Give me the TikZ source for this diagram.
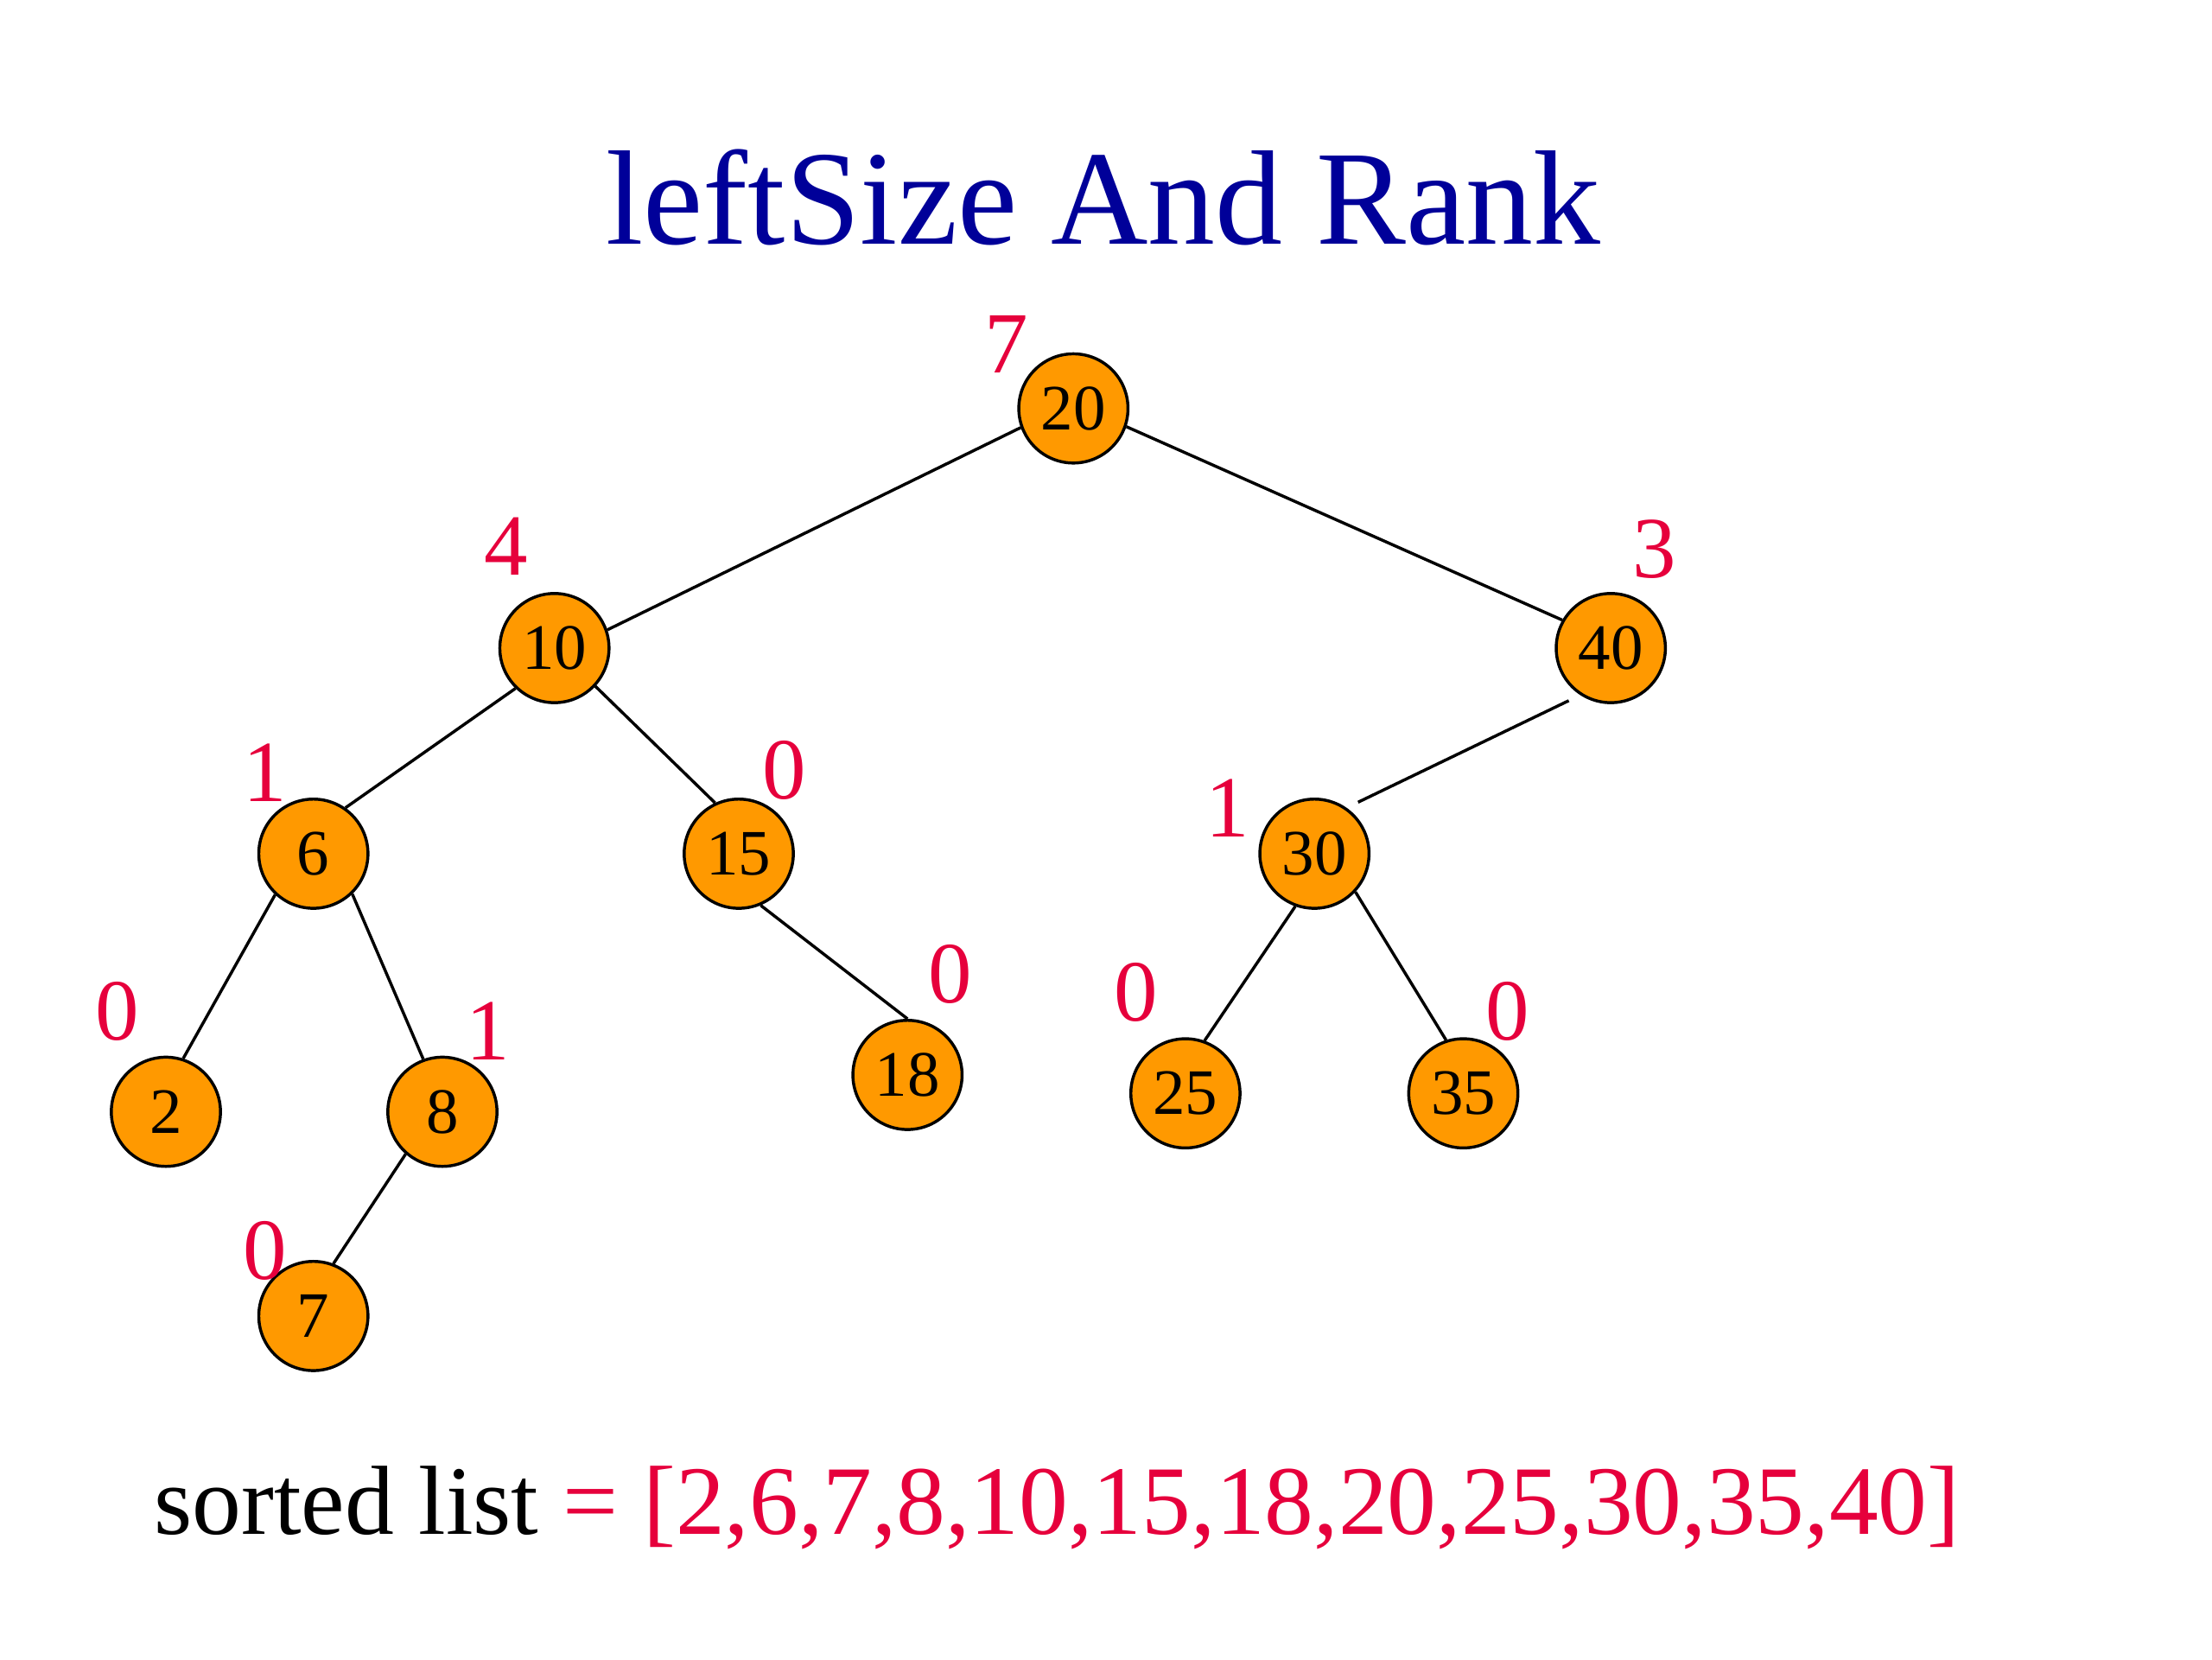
\documentclass[tikz,border=0pt]{standalone}
\usepackage{fontspec}
\setmainfont{Liberation Serif}
\definecolor{titleblue}{RGB}{0,0,153}
\definecolor{rankred}{RGB}{230,0,60}
\definecolor{keyorange}{RGB}{255,153,0}
\begin{document}
\begin{tikzpicture}[x=0.1mm, y=-0.1mm, keynode/.style={circle, draw, fill=keyorange, line width=0.6pt, minimum size=7.7mm, inner sep=0pt, font=\fontsize{13}{15}\selectfont}, sizelabel/.style={text=rankred, inner sep=0pt, font=\fontsize{17.5}{20}\selectfont}, treeline/.style={line width=0.6pt}]
                \useasboundingbox (0,0) rectangle (1560,1170);
                % Title
                \node[anchor=base, inner sep=0pt, text=titleblue, font=\fontsize{27}{32}\selectfont] (title) at (778,172) {leftSize And Rank};
                % Keys of the tree
                \node[keynode] (n20) at (757,288) {20};
                \node[keynode] (n10) at (391,457) {10};
                \node[keynode] (n40) at (1136,457) {40};
                \node[keynode] (n6) at (221,602) {6};
                \node[keynode] (n15) at (521,602) {15};
                \node[keynode] (n30) at (927,602) {30};
                \node[keynode] (n2) at (117,784) {2};
                \node[keynode] (n8) at (312,784) {8};
                \node[keynode] (n18) at (640,758) {18};
                \node[keynode] (n25) at (836,771) {25};
                \node[keynode] (n35) at (1032,771) {35};
                \node[keynode] (n7) at (221,928) {7};
                % leftSize values
                \node[sizelabel] (s20) at (710,243) {7};
                \node[sizelabel] (s10) at (357,385) {4};
                \node[sizelabel] (s40) at (1167,387) {3};
                \node[sizelabel] (s6) at (187,545) {1};
                \node[sizelabel] (s15) at (553,543) {0};
                \node[sizelabel] (s30) at (866,570) {1};
                \node[sizelabel] (s2) at (83,713) {0};
                \node[sizelabel] (s8) at (344,727) {1};
                \node[sizelabel] (s18) at (670,687) {0};
                \node[sizelabel] (s25) at (801,700) {0};
                \node[sizelabel] (s35) at (1063,713) {0};
                \node[sizelabel] (s7) at (187,882) {0};
                % Edges
                \draw[treeline] (n20.200) -- (n10.19);
                \draw[treeline] (n20.341) -- (n40.150);
                \draw[treeline] (n10.226) -- (n6.55);
                \draw[treeline] (n10.317) -- (n15.115);
                \draw[treeline, shorten <=0.9mm, shorten >=0.9mm] (n40.237) -- (n30.55);
                \draw[treeline] (n6.227) -- (n2.72);
                \draw[treeline] (n6.314) -- (n8.110);
                \draw[treeline] (n15.293) -- (n18.90);
                \draw[treeline] (n30.250) -- (n25.70);
                \draw[treeline] (n30.317) -- (n35.108);
                \draw[treeline] (n8.229) -- (n7.69);
                % Sorted list
                \node[anchor=base west, inner sep=0pt, font=\fontsize{19.7}{23}\selectfont] (sorted) at (108,1082) {sorted list \textcolor{rankred}{= [2,6,7,8,10,15,18,20,25,30,35,40]}};
\end{tikzpicture}
\end{document}
